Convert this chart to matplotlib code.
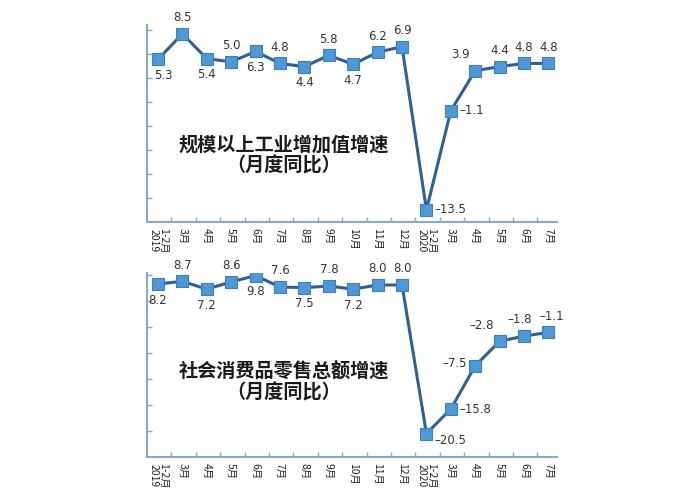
import matplotlib
matplotlib.use("Agg")
import matplotlib.pyplot as plt
import numpy as np

plt.rcParams['font.family'] = ['Noto Sans CJK SC', 'DejaVu Sans']
plt.rcParams['axes.unicode_minus'] = True

months = ["1-2月\n2019", "3月", "4月", "5月", "6月", "7月", "8月", "9月", "10月",
          "11月", "12月", "1-2月\n2020", "3月", "4月", "5月", "6月", "7月"]
industry = [5.3, 8.5, 5.4, 5.0, 6.3, 4.8, 4.4, 5.8, 4.7, 6.2, 6.9,
            -13.5, -1.1, 3.9, 4.4, 4.8, 4.8]
retail = [8.2, 8.7, 7.2, 8.6, 9.8, 7.6, 7.5, 7.8, 7.2, 8.0, 8.0,
          -20.5, -15.8, -7.5, -2.8, -1.8, -1.1]
title_industry = "规模以上工业增加值增速\n（月度同比）"
title_retail = "社会消费品零售总额增速\n（月度同比）"

# label placement codes (style only)
place_ind = ["br", "a", "b", "a", "b", "a", "b", "a", "b", "a", "a",
             "r", "r", "al", "a", "a", "a"]
place_ret = ["b", "a", "b", "a", "b", "a", "b", "a", "b", "a", "a",
             "rb", "r", "l", "al", "aL", "aR"]

LINE = "#2f5f95"
MARK = "#4f98d6"
SPINE = "#8aa6c8"

fig = plt.figure(figsize=(7, 5), dpi=100)
ax1 = fig.add_axes([147/700, 1-222/500, 410/700, 197/500])
ax2 = fig.add_axes([147/700, 1-457/500, 410/700, 184/500])

offsets = {"a": (0, 7, "center", "bottom"),
           "aL": (-3, 7, "center", "bottom"),
           "aR": (2, 7, "center", "bottom"),
           "b": (0, -7, "center", "top"),
           "br": (-3, -7, "left", "top"),
           "r": (6, 0, "left", "center"),
           "rb": (6, -5, "left", "center"),
           "l": (-6, 2, "right", "center"),
           "al": (-4, 7, "right", "bottom")}

def fmt(v):
    s = f"{v:.1f}"
    return s.replace("-", "–")

def draw(ax, vals, places, title, ylim, yticks, ty):
    x = np.arange(len(vals))
    ax.plot(x, vals, color=LINE, lw=2.2, zorder=2)
    ax.plot(x, vals, ls="none", marker="s", ms=8, mfc=MARK, mec="#3f7fb8",
            mew=0.8, zorder=3)
    for xi, v, p in zip(x, vals, places):
        dx, dy, ha, va = offsets[p]
        ax.annotate(fmt(v), (xi, v), xytext=(dx, dy), textcoords="offset points",
                    ha=ha, va=va, fontsize=8.5, color="#333333",
                    family=["DejaVu Sans"])
    ax.set_xlim(-0.45, 16.35)
    ax.set_ylim(*ylim)
    ax.set_yticks(yticks)
    ax.set_yticklabels([])
    ax.set_xticks(x)
    ax.set_xticklabels(months, rotation=270, fontsize=7.5, va="top",
                       ha="center", linespacing=0.95, color="#222222")
    ax.set_xticks(np.arange(0.55, 16, 1), minor=True)
    ax.tick_params(axis="x", which="major", length=0, pad=4)
    ax.tick_params(axis="x", which="minor", length=3.5, direction="in",
                   color=SPINE, width=1)
    ax.tick_params(axis="y", length=3.5, direction="in", color=SPINE, width=1)
    for s in ["top", "right"]:
        ax.spines[s].set_visible(False)
    for s in ["left", "bottom"]:
        ax.spines[s].set_color(SPINE)
        ax.spines[s].set_linewidth(1.5)
    ax.text(5.15, ty, title, ha="center", va="center", fontsize=13.8,
            fontweight="bold", color="#1a1a1a", linespacing=1.15)

draw(ax1, industry, place_ind, title_industry, (-15, 9.6),
     np.arange(-12, 10, 3), -6.7)
draw(ax2, retail, place_ret, title_retail, (-25, 10.3),
     np.arange(-20, 11, 5), -10.6)

fig.savefig("out.png", dpi=100)
